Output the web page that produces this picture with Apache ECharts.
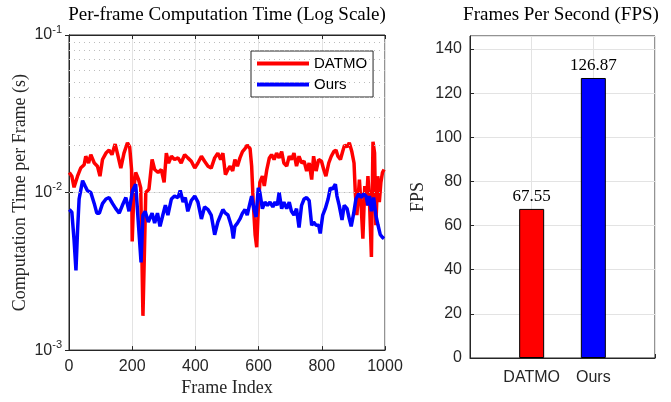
<!DOCTYPE html>
<html>
<head>
<meta charset="utf-8">
<script src="https://cdn.jsdelivr.net/npm/echarts@6/dist/echarts.min.js"></script>
<style>
html, body { margin: 0; padding: 0; background: #fff; }
#chart { width: 671px; height: 402px; }
</style>
</head>
<body>
<div id="chart"></div>
<script>
// per-frame computation time (s)
const datmoFrames = [1, 9, 16, 27, 37, 48, 53, 62, 69, 80, 90, 98, 106, 117, 127, 136, 146, 153, 164, 174, 185, 192, 198, 200, 206, 211, 220, 227, 234, 243, 253,
  255, 263, 271, 282, 292, 301, 308, 315, 324, 334, 345, 355, 366, 376, 387, 398, 408, 419, 429, 440, 450, 461, 471, 480, 487, 495, 503,
  510, 518, 525, 533, 541, 549, 557, 564, 573, 578, 583, 589, 594, 599, 604, 612, 618, 626, 634, 641, 649, 657, 665, 673, 680, 689, 697, 704, 712, 720, 728, 736, 744, 752, 760, 768,
  774, 782, 790, 799, 806, 813, 822, 830, 838, 845, 851, 859, 866, 872, 880, 887, 895, 902, 906, 911, 919, 925, 930, 936, 941, 946, 951, 957, 962, 967, 971, 977, 982, 987, 992, 997];
const datmoTime = [0.0134, 0.0127, 0.0108, 0.0127, 0.0143, 0.0150, 0.0170, 0.0154, 0.0174, 0.0154, 0.0147, 0.0127, 0.0162, 0.0178, 0.0186, 0.0174, 0.0203, 0.0178, 0.0143, 0.0178, 0.0207, 0.0195, 0.0140, 0.0049, 0.0110, 0.0134, 0.0121, 0.0107, 0.00165, 0.0100, 0.0105,
  0.0107, 0.0162, 0.0140, 0.0134, 0.0140, 0.0116, 0.0178, 0.0154, 0.0170, 0.0162, 0.0166, 0.0154, 0.0174, 0.0166, 0.0158, 0.0143, 0.0154, 0.0170, 0.0158, 0.0147, 0.0143, 0.0166, 0.0178, 0.0162, 0.0178, 0.0130, 0.0140,
  0.0147, 0.0137, 0.0162, 0.0147, 0.0166, 0.0182, 0.0190, 0.0200, 0.0190, 0.0147, 0.0087, 0.0054, 0.0045, 0.0079, 0.0116, 0.0127, 0.0110, 0.0140, 0.0166, 0.0174, 0.0162, 0.0178, 0.0166, 0.0182, 0.0154, 0.0147, 0.0170, 0.0162, 0.0178, 0.0147, 0.0170, 0.0154, 0.0158, 0.0137, 0.0154, 0.0121,
  0.0170, 0.0137, 0.0162, 0.0158, 0.0140, 0.0127, 0.0154, 0.0170, 0.0182, 0.0186, 0.0170, 0.0162, 0.0182, 0.0200, 0.0195, 0.0207, 0.0182, 0.0154, 0.0100, 0.0072, 0.0121, 0.0079, 0.0051, 0.0110, 0.0083, 0.0127, 0.0087, 0.0039, 0.0210, 0.0178, 0.0062, 0.0127, 0.0087, 0.0116, 0.0134, 0.0140];

const oursFrames = [1, 9, 16, 22, 27, 32, 43, 51, 58, 69, 80, 88, 96, 106, 117, 127, 138, 148, 159, 169, 180, 190, 201, 211, 217, 222, 228, 234, 241, 251,
  263, 271, 280, 288, 297, 305, 313, 324, 334, 345, 352, 361, 368, 376, 387, 398, 408, 419, 429, 440, 450, 461, 471, 480, 487, 495, 503,
  510, 515, 520, 525, 533, 541, 549, 557, 564, 571, 578, 585, 592, 599, 604, 612, 620, 628, 636, 645, 652, 659, 665, 673, 680, 689, 697, 704, 712, 720, 728, 736, 744, 752, 760, 768,
  774, 782, 790, 795, 803, 811, 820, 827, 834, 843, 848, 855, 864, 871, 880, 887, 893, 901, 908, 917, 925, 932, 940, 946, 951, 957, 964, 971, 978, 985, 992, 997];
const oursTime = [0.0078, 0.0075, 0.0050, 0.0032, 0.0057, 0.0091, 0.0119, 0.0110, 0.0103, 0.0100, 0.0085, 0.0074, 0.0074, 0.0085, 0.0091, 0.0093, 0.0085, 0.0079, 0.0074, 0.0083, 0.0093, 0.0076, 0.0103, 0.0113, 0.0110, 0.0054, 0.0036, 0.0072, 0.0076, 0.0065,
  0.0074, 0.0064, 0.0074, 0.0061, 0.0072, 0.0083, 0.0072, 0.0091, 0.0095, 0.0093, 0.0103, 0.0087, 0.0093, 0.0076, 0.0089, 0.0095, 0.0087, 0.0068, 0.0081, 0.0078, 0.0072, 0.0054, 0.0065, 0.0072, 0.0078, 0.0074, 0.0072,
  0.0065, 0.0060, 0.0051, 0.0061, 0.0064, 0.0068, 0.0074, 0.0078, 0.0072, 0.0083, 0.0095, 0.0079, 0.0070, 0.0107, 0.0100, 0.0079, 0.0087, 0.0083, 0.0087, 0.0081, 0.0087, 0.0083, 0.0100, 0.0079, 0.0087, 0.0079, 0.0087, 0.0076, 0.0072, 0.0079, 0.0060, 0.0083, 0.0091, 0.0093, 0.0089, 0.0062,
  0.0065, 0.0062, 0.0062, 0.0055, 0.0072, 0.0079, 0.0091, 0.0107, 0.0105, 0.0113, 0.0095, 0.0083, 0.0067, 0.0083, 0.0079, 0.0068, 0.0061, 0.0074, 0.0091, 0.0098, 0.0093, 0.0098, 0.0095, 0.0083, 0.0095, 0.0076, 0.0093, 0.0072, 0.0062, 0.0054, 0.0052, 0.0051];

const fpsNames = ['DATMO', 'Ours'];
const fpsValues = [67.55, 126.87];

// minor log grid (dotted) between the decades
const minorLogTicks = [0.002, 0.003, 0.004, 0.005, 0.006, 0.007, 0.008, 0.009,
  0.02, 0.03, 0.04, 0.05, 0.06, 0.07, 0.08, 0.09];

const serif = '"Liberation Serif", "Times New Roman", serif';
const sans = '"Liberation Sans", Arial, sans-serif';
const axisColor = '#262626';
const gridColor = '#e3e3e3';
const barColors = ['#ff0000', '#0000ff'];

const pairs = (xs, ys) => xs.map((x, i) => [x, ys[i]]);

const chart = echarts.init(document.getElementById('chart'));

const tickLabel = { fontFamily: sans, fontSize: 16, color: axisColor };
const axisLine = { show: true, lineStyle: { color: axisColor, width: 1 } };
const innerTick = { show: true, inside: true, length: 4, lineStyle: { color: axisColor } };
const titleText = { fontFamily: serif, fontSize: 19, fontWeight: 'normal', color: '#000' };

chart.setOption({
  animation: false,
  backgroundColor: '#fff',
  title: [
    { text: 'Per-frame Computation Time (Log Scale)', left: 227, top: 6, textAlign: 'center', padding: 0, textStyle: titleText },
    { text: 'Frames Per Second (FPS)', left: 561, top: 6, textAlign: 'center', padding: 0, textStyle: titleText }
  ],
  legend: {
    data: ['DATMO', 'Ours'],
    orient: 'vertical',
    left: 251, top: 51,
    padding: [5, 6, 5, 6],
    icon: 'rect',
    itemGap: 6, itemWidth: 52, itemHeight: 4,
    borderColor: axisColor, borderWidth: 1, backgroundColor: '#fff',
    textStyle: { fontFamily: sans, fontSize: 15, color: '#000', lineHeight: 14 }
  },
  grid: [
    { left: 69, top: 35, width: 316, height: 323, show: true, borderColor: axisColor, borderWidth: 1, backgroundColor: 'transparent' },
    { left: 470, top: 36, width: 185, height: 322, show: true, borderColor: axisColor, borderWidth: 1, backgroundColor: 'transparent' }
  ],
  xAxis: [
    {
      type: 'value', gridIndex: 0, min: 0, max: 1000, interval: 200,
      name: 'Frame Index', nameLocation: 'middle', nameGap: 28,
      nameTextStyle: { fontFamily: serif, fontSize: 18, color: axisColor },
      axisLine, axisTick: innerTick,
      axisLabel: { ...tickLabel, margin: 8, formatter: v => String(v) },
      splitLine: { show: true, lineStyle: { color: gridColor, width: 1 } }
    },
    {
      type: 'value', gridIndex: 0, position: 'top', min: 0, max: 1000, interval: 200,
      axisLine, axisTick: innerTick, axisLabel: { show: false }, splitLine: { show: false }
    },
    {
      type: 'value', gridIndex: 1, min: 0, max: 3, interval: 1,
      axisLine, axisTick: innerTick,
      axisLabel: { ...tickLabel, margin: 12, formatter: v => fpsNames[v - 1] || '' },
      splitLine: { show: true, lineStyle: { color: gridColor, width: 1 } }
    }
  ],
  yAxis: [
    {
      type: 'log', logBase: 10, gridIndex: 0, min: 0.001, max: 0.1,
      name: 'Computation Time per Frame (s)', nameLocation: 'middle', nameGap: 40,
      nameTextStyle: { fontFamily: serif, fontSize: 18, color: axisColor },
      axisLine, axisTick: innerTick,
      axisLabel: {
        margin: 7,
        formatter: v => '{b|10}{s|' + Math.round(Math.log10(v)) + '}',
        rich: {
          b: { fontFamily: sans, fontSize: 16, color: axisColor, lineHeight: 22 },
          s: { fontFamily: sans, fontSize: 11, color: axisColor, verticalAlign: 'top' }
        }
      },
      splitLine: { show: true, lineStyle: { color: gridColor, width: 1 } }
    },
    {
      type: 'log', logBase: 10, gridIndex: 0, position: 'right', min: 0.001, max: 0.1,
      axisLine, axisTick: innerTick, axisLabel: { show: false }, splitLine: { show: false }
    },
    {
      type: 'value', gridIndex: 1, min: 0, max: 145.9, interval: 20,
      name: 'FPS', nameLocation: 'middle', nameGap: 43,
      nameTextStyle: { fontFamily: serif, fontSize: 18, color: axisColor },
      axisLine, axisTick: innerTick,
      axisLabel: { ...tickLabel, margin: 8, showMaxLabel: false },
      splitLine: { show: true, lineStyle: { color: gridColor, width: 1 } }
    }
  ],
  series: [
    {
      name: 'minor', type: 'line', xAxisIndex: 0, yAxisIndex: 0, data: [], silent: true,
      markLine: {
        silent: true, symbol: 'none', label: { show: false },
        lineStyle: { type: [1, 4], color: '#bdbdbd', width: 1 },
        data: minorLogTicks.map(v => ({ yAxis: v }))
      }
    },
    {
      name: 'DATMO', type: 'line', xAxisIndex: 0, yAxisIndex: 0,
      symbol: 'none', showSymbol: false,
      lineStyle: { color: '#ff0000', width: 3.5 }, itemStyle: { color: '#ff0000' },
      data: pairs(datmoFrames, datmoTime)
    },
    {
      name: 'Ours', type: 'line', xAxisIndex: 0, yAxisIndex: 0,
      symbol: 'none', showSymbol: false,
      lineStyle: { color: '#0000ff', width: 3.5 }, itemStyle: { color: '#0000ff' },
      data: pairs(oursFrames, oursTime)
    },
    {
      name: 'FPS', type: 'bar', xAxisIndex: 2, yAxisIndex: 2, barWidth: 25,
      label: {
        show: true, position: 'top', distance: 4,
        fontFamily: serif, fontSize: 17, color: '#000',
        formatter: p => p.value[1].toFixed(2)
      },
      data: fpsValues.map((v, i) => ({
        value: [i + 1, v],
        itemStyle: { color: barColors[i], borderColor: '#000', borderWidth: 1 }
      }))
    }
  ]
});
</script>
</body>
</html>
